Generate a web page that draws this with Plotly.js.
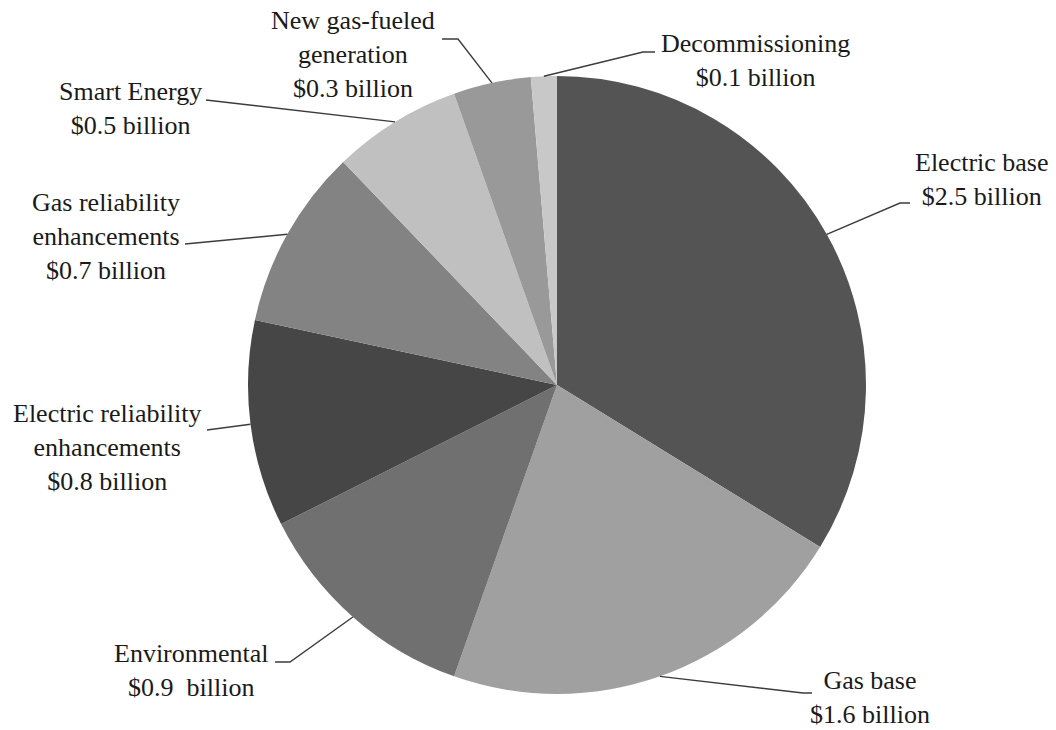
<!DOCTYPE html>
<html><head><meta charset="utf-8">
<script src="https://cdn.plot.ly/plotly-3.0.1.min.js"></script>
<style>html,body{margin:0;padding:0;background:#fff}#chart{width:1056px;height:730px}</style>
</head><body><div id="chart"></div><script>
const categories = ["Electric base","Gas base","Environmental","Electric reliability enhancements","Gas reliability enhancements","Smart Energy","New gas-fueled generation","Decommissioning"];
const values = [2.5, 1.6, 0.9, 0.8, 0.7, 0.5, 0.3, 0.1];
const labelText = ["Electric base","Gas base","Environmental","Electric reliability<br>enhancements","Gas reliability<br>enhancements","Smart Energy","New gas-fueled<br>generation","Decommissioning"];
const valueText = ["$2.5 billion","$1.6 billion","$0.9\u00a0 billion","$0.8 billion","$0.7 billion","$0.5 billion","$0.3 billion","$0.1 billion"];
const colors = ["#545454","#a0a0a0","#707070","#464646","#838383","#c0c0c0","#999999","#c8c8c8"];

// layout (pixels)
const W = 1056, H = 730;
const cx = 557, cy = 385, R = 309;
const labelPos = [[982,179],[870,697],[191,670],[107,447],[106,236],[130,108],[353,54],[755,60]];
const elbows = [[900,203,910],[803,693,812],[290,662,275],[207,430,207],[185,244,185],[206,100,206],[458,39,442],[643,52,655]];

const px = x => x / W;
const py = y => 1 - y / H;

const total = values.reduce((a,b)=>a+b,0);
let cum = 0;
const annotations = [], shapes = [];
values.forEach((v,i)=>{
  const mid = (cum + v/2) / total * 2 * Math.PI;
  cum += v;
  const ax = cx + R * Math.sin(mid), ay = cy - R * Math.cos(mid);
  const e = elbows[i];
  shapes.push({type:'path', xref:'paper', yref:'paper',
    path:`M ${px(ax)},${py(ay)} L ${px(e[0])},${py(e[1])} L ${px(e[2])},${py(e[1])}`,
    line:{color:'#3c3c3c', width:1.4}});
  annotations.push({xref:'paper', yref:'paper', x:px(labelPos[i][0]), y:py(labelPos[i][1]),
    xanchor:'center', yanchor:'middle', align:'center', showarrow:false,
    text: labelText[i] + '<br>' + valueText[i],
    font:{family:'Liberation Serif, Times New Roman, serif', size:26, color:'#1a1a1a'}});
});

const trace = {
  type:'pie', labels:categories, values:values, sort:false, direction:'clockwise', rotation:0,
  textinfo:'none', hoverinfo:'label+value', showlegend:false,
  marker:{colors:colors, line:{width:0}},
  domain:{x:[px(cx-R), px(cx+R)], y:[py(cy+R), py(cy-R)]}
};

Plotly.newPlot('chart', [trace], {
  width:W, height:H, margin:{l:0,r:0,t:0,b:0},
  paper_bgcolor:'#ffffff', plot_bgcolor:'#ffffff',
  font:{family:'Liberation Serif, Times New Roman, serif'},
  annotations:annotations, shapes:shapes, showlegend:false
}, {displayModeBar:false, staticPlot:true});
</script></body></html>
